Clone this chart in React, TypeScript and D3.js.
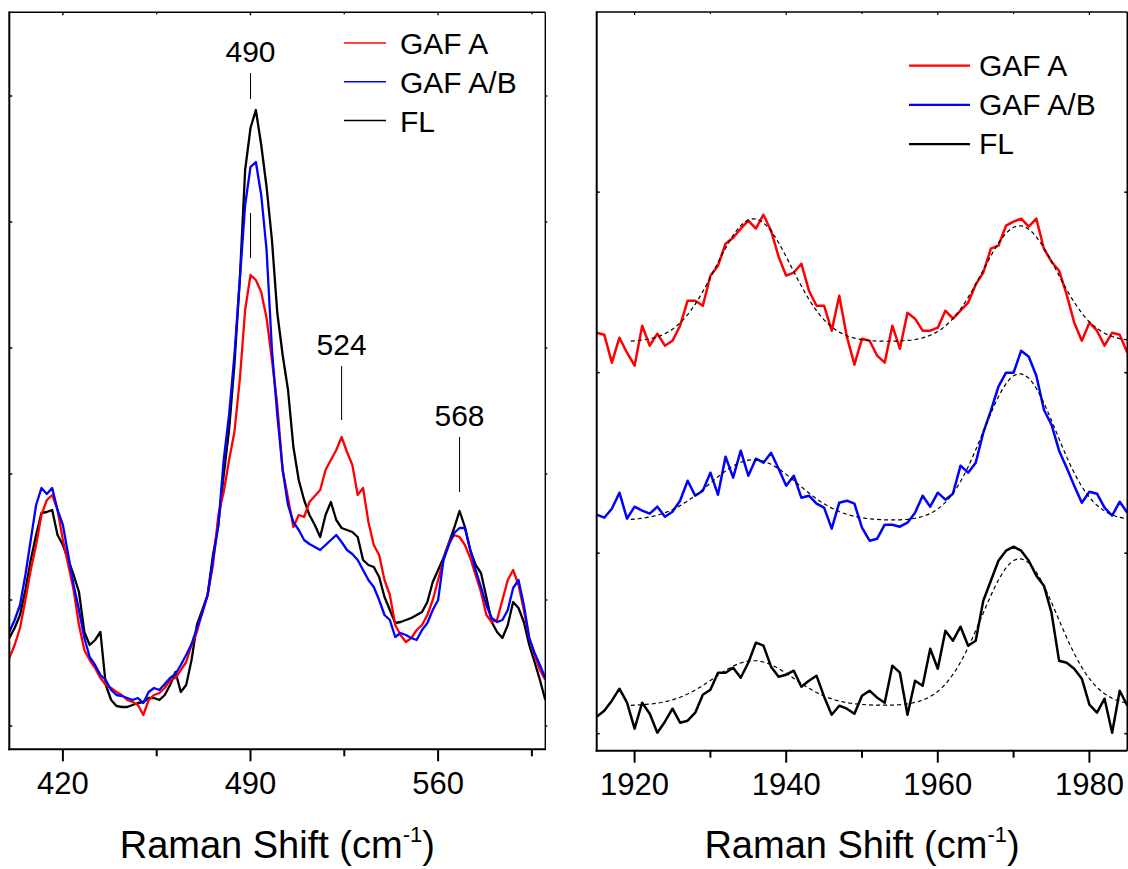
import React from 'react';
import * as d3 from 'd3';

// ---------- Left panel data (Raman shift 400–600 cm-1, intensity a.u.) ----------
const leftShift = d3.range(400, 601, 2);
const leftGafA = [
  92, 105, 122, 150, 180, 205, 235, 250, 255, 240,
  210, 185, 160, 125, 100, 90, 82, 72, 65, 62,
  58, 55, 50, 48, 45, 35, 50, 55, 57, 62,
  70, 72, 80, 88, 105, 118, 138, 155, 185, 235,
  258, 290, 318, 370, 440, 475, 470, 458, 432, 390,
  345, 280, 252, 223, 235, 233, 248, 254, 260, 280,
  290, 300, 313, 298, 285, 255, 262, 228, 205, 195,
  170, 155, 125, 115, 108, 112, 120, 125, 135, 150,
  170, 190, 207, 215, 213, 205, 192, 175, 158, 135,
  128, 130, 150, 170, 180, 165, 140, 112, 95, 80,
  70,
];
const leftGafAB = [
  118, 130, 145, 175, 210, 245, 262, 256, 262, 240,
  225, 195, 165, 140, 112, 93, 85, 75, 70, 60,
  55, 54, 52, 50, 52, 47, 58, 62, 60, 66,
  72, 76, 85, 95, 106, 122, 137, 155, 190, 225,
  290, 335, 395, 470, 545, 583, 588, 555, 500, 400,
  335, 280, 245, 228, 220, 210, 206, 203, 200, 205,
  210, 215, 208, 200, 196, 190, 180, 170, 163, 150,
  135, 130, 113, 117, 115, 112, 110, 120, 127, 140,
  150, 190, 205, 217, 222, 222, 200, 180, 163, 145,
  132, 128, 130, 140, 162, 170, 145, 112, 97, 85,
  72,
];
const leftFL = [
  112, 122, 135, 160, 190, 215, 237, 238, 240, 215,
  205, 190, 175, 158, 118, 105, 110, 118, 65, 50,
  44, 43, 43, 45, 47, 48, 52, 52, 50, 55,
  65, 78, 58, 65, 90, 125, 140, 155, 195, 225,
  275, 320, 385, 470, 580, 622, 640, 605, 563, 510,
  437, 395, 360, 303, 270, 250, 235, 225, 213, 235,
  248, 230, 222, 220, 218, 213, 190, 185, 183, 173,
  153, 140, 127, 128, 130, 132, 135, 138, 148, 168,
  180, 192, 207, 222, 239, 223, 200, 185, 177, 153,
  128, 118, 112, 125, 148, 142, 128, 105, 88, 70,
  50,
];
const leftMajorTicks = [420, 490, 560];
const leftMinorTicks = [455, 525, 595];
const leftYTicks = [24, 150, 276, 402, 528, 654];
const peakLabels = ['490', '524', '568'];
const peakPositions = [490, 524, 568];
const peakMarkerTop = [677, 384, 313];
const peakMarkerBottom = [651, 330, 258];
const innerMarker490 = [537, 492];

// ---------- Right panel data (Raman shift 1915–1985 cm-1, offset traces) ----------
const rightShift = d3.range(1915, 1986, 1);
const rightGafA = [
  418, 416, 388, 413, 398, 385, 425, 405, 417, 405,
  410, 425, 450, 450, 445, 475, 485, 507, 513, 522,
  530, 522, 536, 520, 494, 475, 478, 487, 460, 445,
  445, 420, 455, 414, 386, 412, 410, 395, 388, 425,
  402, 438, 432, 420, 420, 423, 440, 432, 440, 448,
  466, 478, 502, 505, 525, 529, 532, 524, 532, 502,
  489, 480, 456, 428, 410, 428, 420, 405, 418, 416,
  398,
];
const rightGafAB = [
  236, 233, 242, 258, 232, 244, 240, 237, 244, 234,
  239, 250, 270, 255, 260, 278, 256, 294, 273, 300,
  275, 292, 288, 298, 282, 265, 275, 253, 255, 247,
  243, 222, 248, 250, 247, 223, 210, 212, 226, 226,
  224, 228, 238, 255, 244, 258, 251, 257, 285, 278,
  288, 318, 340, 364, 378, 378, 400, 394, 375, 341,
  326, 300, 283, 265, 248, 259, 257, 243, 235, 249,
  238,
];
const rightFL = [
  34, 40, 50, 62, 48, 22, 48, 37, 18, 29,
  42, 28, 30, 38, 56, 61, 78, 78, 83, 73,
  88, 108, 105, 84, 74, 76, 80, 64, 70, 75,
  54, 36, 45, 42, 37, 55, 60, 53, 48, 85,
  78, 36, 70, 65, 102, 82, 120, 110, 124, 105,
  110, 150, 170, 190, 200, 204, 200, 190, 175, 165,
  138, 90, 88, 82, 72, 46, 38, 52, 18, 60,
  45,
];
// two-band fit parameters (GAF A, GAF A/B, FL)
const fitCenters = [1935.7, 1970.8];
const fitBaseline = [409, 230, 45];
const fitAmp1 = [123, 61, 45];
const fitAmp2 = [116, 147, 147];
const fitSigma1 = [5.0, 5.8, 5.3];
const fitSigma2 = [4.9, 4.8, 5.0];
const fitStart = 1919.5;
const rightMajorTicks = [1920, 1940, 1960, 1980];
const rightMinorTicks = [1930, 1950, 1970];
const rightYTicks = [17, 197.5, 378, 558.5];

const seriesNames = ['GAF A', 'GAF A/B', 'FL'];
const seriesColors = ['#ff0000', '#0000ff', '#000000'];

const FONT = "'Liberation Sans', Arial, Helvetica, sans-serif";

function AxisTitle({ cx }: { cx: number }) {
  return (
    <text x={cx} y={858} fontSize={38} textAnchor="middle" fill="#000">
      Raman Shift (cm
      <tspan dy={-16} fontSize={22}>
        -1
      </tspan>
      <tspan dy={16}>)</tspan>
    </text>
  );
}

export default function App() {
  // scales
  const lx = d3.scaleLinear().domain([400, 600]).range([9.3, 545.3]);
  const ly = d3.scaleLinear().domain([0.7, 737.7]).range([749.3, 12.3]);
  const rx = d3.scaleLinear().domain([1915, 1985]).range([596.7, 1127.3]);
  const ry = d3.scaleLinear().domain([0, 738.7]).range([750.7, 12]);

  const leftSeries = [leftGafA, leftGafAB, leftFL];
  const rightSeries = [rightGafA, rightGafAB, rightFL];

  const leftLine = d3
    .line<[number, number]>()
    .x((d) => lx(d[0]))
    .y((d) => ly(d[1]));
  const rightLine = d3
    .line<[number, number]>()
    .x((d) => rx(d[0]))
    .y((d) => ry(d[1]));

  const fitGrid = d3.range(fitStart, 1985.01, 0.5);
  const fitCurves = fitBaseline.map((b, i) =>
    fitGrid.map((w) => [
      w,
      b +
        fitAmp1[i] * Math.exp(-((w - fitCenters[0]) ** 2) / (2 * fitSigma1[i] ** 2)) +
        fitAmp2[i] * Math.exp(-((w - fitCenters[1]) ** 2) / (2 * fitSigma2[i] ** 2)),
    ] as [number, number])
  );

  const [lx0, lx1] = lx.range();
  const [ly0, ly1] = ly.range();
  const [rx0, rx1] = rx.range();
  const [ry0, ry1] = ry.range();

  // draw order: FL first, then GAF A, then GAF A/B
  const leftOrder = [2, 0, 1];

  return (
    <svg
      width={1128}
      height={869}
      style={{ position: 'absolute', left: 0, top: 0, display: 'block', background: '#fff' }}
      fontFamily={FONT}
    >
      <defs>
        <clipPath id="clipL">
          <rect x={lx0} y={ly1} width={lx1 - lx0} height={ly0 - ly1} />
        </clipPath>
        <clipPath id="clipR">
          <rect x={rx0} y={ry1} width={rx1 - rx0} height={ry0 - ry1} />
        </clipPath>
      </defs>
      <rect x={0} y={0} width={1128} height={869} fill="#fff" />

      {/* ---------------- LEFT PANEL ---------------- */}
      <g clipPath="url(#clipL)">
        {leftOrder.map((si) => (
          <path
            key={si}
            d={leftLine(leftShift.map((w, i) => [w, leftSeries[si][i]] as [number, number])) || ''}
            fill="none"
            stroke={seriesColors[si]}
            strokeWidth={2.3}
            strokeLinejoin="round"
          />
        ))}
      </g>
      {/* peak markers */}
      {peakPositions.map((p, i) => (
        <g key={p}>
          <line
            x1={lx(p)}
            x2={lx(p)}
            y1={ly(peakMarkerTop[i])}
            y2={ly(peakMarkerBottom[i])}
            stroke="#000"
            strokeWidth={1}
          />
          <text x={lx(p)} y={ly(peakMarkerTop[i]) - 11} fontSize={30} textAnchor="middle" fill="#000">
            {peakLabels[i]}
          </text>
        </g>
      ))}
      <line
        x1={lx(peakPositions[0])}
        x2={lx(peakPositions[0])}
        y1={ly(innerMarker490[0])}
        y2={ly(innerMarker490[1])}
        stroke="#000"
        strokeWidth={1}
      />
      {/* frame */}
      <line x1={lx0} x2={lx1} y1={ly1} y2={ly1} stroke="#000" strokeWidth={1.4} />
      <line x1={lx1} x2={lx1} y1={ly1} y2={ly0} stroke="#000" strokeWidth={1.4} />
      <line x1={lx0} x2={lx0} y1={ly1 - 0.7} y2={ly0 + 1} stroke="#000" strokeWidth={2} />
      <line x1={lx0 - 1} x2={lx1 + 0.7} y1={ly0} y2={ly0} stroke="#000" strokeWidth={2} />
      {/* x ticks */}
      {leftMajorTicks.map((t) => (
        <g key={t}>
          <line x1={lx(t)} x2={lx(t)} y1={ly0} y2={ly0 + 12} stroke="#000" strokeWidth={2} />
          <line x1={lx(t)} x2={lx(t)} y1={ly1} y2={ly1 + 3} stroke="#000" strokeWidth={1.4} />
          <text x={lx(t)} y={794} fontSize={31} textAnchor="middle" fill="#000">
            {t}
          </text>
        </g>
      ))}
      {leftMinorTicks.map((t) => (
        <g key={t}>
          <line x1={lx(t)} x2={lx(t)} y1={ly0} y2={ly0 + 7} stroke="#000" strokeWidth={2} />
          <line x1={lx(t)} x2={lx(t)} y1={ly1} y2={ly1 + 2} stroke="#000" strokeWidth={1.4} />
        </g>
      ))}
      {leftYTicks.map((t) => (
        <g key={t}>
          <line x1={lx0} x2={lx0 + 3} y1={ly(t)} y2={ly(t)} stroke="#000" strokeWidth={1.5} />
          <line x1={lx1} x2={lx1 + 2} y1={ly(t)} y2={ly(t)} stroke="#000" strokeWidth={1.5} />
        </g>
      ))}
      <AxisTitle cx={(lx0 + lx1) / 2} />
      {/* legend */}
      {seriesNames.map((n, i) => (
        <g key={n}>
          <line
            x1={344}
            x2={386}
            y1={43 + i * 38.7}
            y2={43 + i * 38.7}
            stroke={seriesColors[i]}
            strokeWidth={1.5}
          />
          <text x={400} y={53.5 + i * 39} fontSize={30} fill="#000">
            {n}
          </text>
        </g>
      ))}

      {/* ---------------- RIGHT PANEL ---------------- */}
      <g clipPath="url(#clipR)">
        {rightSeries.map((s, si) => (
          <path
            key={si}
            d={rightLine(rightShift.map((w, i) => [w, s[i]] as [number, number])) || ''}
            fill="none"
            stroke={seriesColors[si]}
            strokeWidth={2.5}
            strokeLinejoin="round"
          />
        ))}
        {fitCurves.map((c, i) => (
          <path
            key={i}
            d={rightLine(c) || ''}
            fill="none"
            stroke="#000"
            strokeWidth={1.2}
            strokeDasharray="4,3"
          />
        ))}
      </g>
      {/* frame */}
      <line x1={rx0} x2={rx1} y1={ry1} y2={ry1} stroke="#000" strokeWidth={1.6} />
      <line x1={rx1} x2={rx1} y1={ry1} y2={ry0} stroke="#000" strokeWidth={1.6} />
      <line x1={rx0} x2={rx0} y1={ry1 - 0.8} y2={ry0 + 1} stroke="#000" strokeWidth={2} />
      <line x1={rx0 - 1} x2={rx1} y1={ry0} y2={ry0} stroke="#000" strokeWidth={2} />
      {rightMajorTicks.map((t) => (
        <g key={t}>
          <line x1={rx(t)} x2={rx(t)} y1={ry0} y2={ry0 + 12} stroke="#000" strokeWidth={2} />
          <line x1={rx(t)} x2={rx(t)} y1={ry1} y2={ry1 + 3} stroke="#000" strokeWidth={1.2} />
          <text x={rx(t)} y={795} fontSize={31} textAnchor="middle" fill="#000">
            {t}
          </text>
        </g>
      ))}
      {rightMinorTicks.map((t) => (
        <g key={t}>
          <line x1={rx(t)} x2={rx(t)} y1={ry0} y2={ry0 + 7} stroke="#000" strokeWidth={2} />
          <line x1={rx(t)} x2={rx(t)} y1={ry1} y2={ry1 + 2} stroke="#000" strokeWidth={1.2} />
        </g>
      ))}
      {rightYTicks.map((t) => (
        <g key={t}>
          <line x1={rx0} x2={rx0 + 3} y1={ry(t)} y2={ry(t)} stroke="#000" strokeWidth={1.5} />
          <line x1={rx1 - 3} x2={rx1} y1={ry(t)} y2={ry(t)} stroke="#000" strokeWidth={1.5} />
        </g>
      ))}
      <AxisTitle cx={(rx0 + rx1) / 2} />
      {seriesNames.map((n, i) => (
        <g key={n}>
          <line
            x1={909}
            x2={970}
            y1={65.7 + i * 39.2}
            y2={65.7 + i * 39.2}
            stroke={seriesColors[i]}
            strokeWidth={2.2}
          />
          <text x={979} y={75.5 + i * 39} fontSize={30} fill="#000">
            {n}
          </text>
        </g>
      ))}
    </svg>
  );
}
